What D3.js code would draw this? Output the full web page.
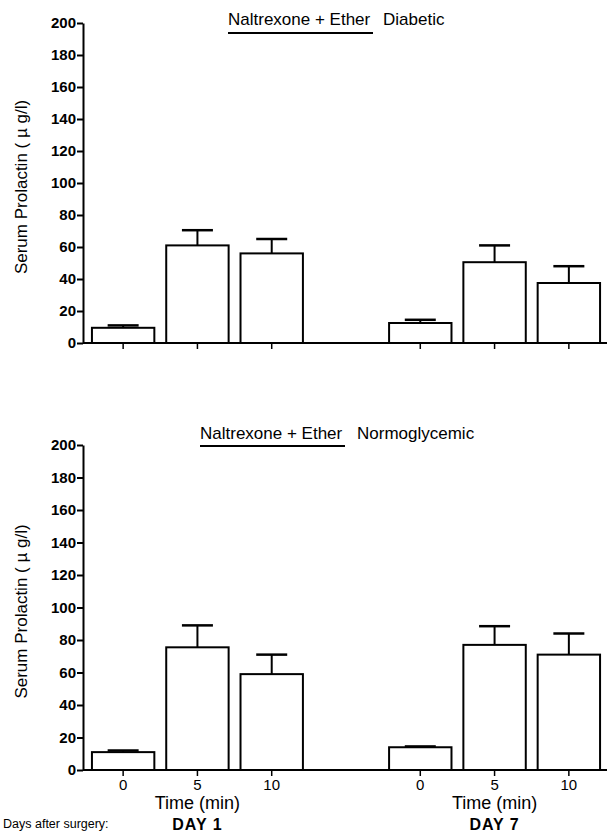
<!DOCTYPE html>
<html>
<head>
<meta charset="utf-8">
<script src="https://cdn.jsdelivr.net/npm/d3@7"></script>
<style>
  body { margin: 0; background: #fff; }
  svg text { font-family: "Liberation Sans", Arial, Helvetica, sans-serif; fill: #000; }
</style>
</head>
<body>
<div id="chart"></div>
<script>
// bar slots: three time points per day, with an empty slot between the days
var slots = ['d1-0', 'd1-5', 'd1-10', 'gap', 'd7-0', 'd7-5', 'd7-10'];
var barSlots = ['d1-0', 'd1-5', 'd1-10', 'd7-0', 'd7-5', 'd7-10'];
var timeLabels = ['0', '5', '10', '0', '5', '10'];
var dayLabels = ['DAY 1', 'DAY 7'];
var yTicks = [0, 20, 40, 60, 80, 100, 120, 140, 160, 180, 200];

// serum prolactin means and SEM (µg/l)
var diabeticMean = [9.5, 61, 56, 12.5, 50.5, 37.5];
var diabeticSem = [1.5, 9.5, 9, 2, 10.5, 10.5];
var normoMean = [11, 75.5, 59, 14, 77, 71];
var normoSem = [1, 13.5, 12, 0.5, 11.5, 13];

(function() {

  init();

  function init() {
    var width = 613;
    var height = 832;
    var axisX = 83;

    var svg = d3.select('#chart')
      .append('svg')
      .attr('width', width)
      .attr('height', height);

    var x = d3.scaleBand()
      .domain(slots)
      .range([86, 606])
      .paddingInner(0.16)
      .paddingOuter(0.08);

    drawPanel({
      top: 23, bottom: 343,
      mean: diabeticMean, sem: diabeticSem,
      titleX: 228, titleY: 25, underlineY: 33, titleEnd: 373,
      group: 'Diabetic', groupX: 383,
      labels: false
    });

    drawPanel({
      top: 445, bottom: 770,
      mean: normoMean, sem: normoSem,
      titleX: 200, titleY: 439, underlineY: 446, titleEnd: 345,
      group: 'Normoglycemic', groupX: 357,
      labels: true
    });

    function drawPanel(p) {
      var y = d3.scaleLinear().domain([0, 200]).range([p.bottom, p.top]);
      var g = svg.append('g');

      // y axis
      var yAxis = g.append('g')
        .attr('transform', 'translate(' + axisX + ',0)')
        .call(d3.axisLeft(y).tickValues(yTicks).tickSize(6).tickSizeOuter(0).tickPadding(1));
      yAxis.select('.domain').attr('stroke-width', 2);
      yAxis.selectAll('.tick line').attr('stroke-width', 2);
      yAxis.selectAll('.tick text')
        .style('font-size', '15px')
        .style('font-weight', 'bold');

      g.append('text')
        .attr('transform', 'translate(27,' + ((p.top + p.bottom) / 2 + 4) + ') rotate(-90)')
        .attr('text-anchor', 'middle')
        .style('font-size', '17px')
        .text('Serum Prolactin  ( \u00b5 g/l)');

      // bars
      var data = barSlots.map(function(s, i) {
        return { slot: s, mean: p.mean[i], sem: p.sem[i], label: timeLabels[i] };
      });

      g.selectAll('rect.bar')
        .data(data)
        .enter()
        .append('rect')
        .attr('class', 'bar')
        .attr('x', function(d) { return x(d.slot); })
        .attr('y', function(d) { return y(d.mean); })
        .attr('width', x.bandwidth())
        .attr('height', function(d) { return y(0) - y(d.mean); })
        .attr('fill', '#fff')
        .attr('stroke', '#000')
        .attr('stroke-width', 2);

      // error bars (upper only)
      var cap = 15.5;
      g.selectAll('line.err')
        .data(data)
        .enter()
        .append('line')
        .attr('class', 'err')
        .attr('x1', function(d) { return x(d.slot) + x.bandwidth() / 2; })
        .attr('x2', function(d) { return x(d.slot) + x.bandwidth() / 2; })
        .attr('y1', function(d) { return y(d.mean); })
        .attr('y2', function(d) { return y(d.mean + d.sem); })
        .attr('stroke', '#000')
        .attr('stroke-width', 2);

      g.selectAll('line.cap')
        .data(data)
        .enter()
        .append('line')
        .attr('class', 'cap')
        .attr('x1', function(d) { return x(d.slot) + x.bandwidth() / 2 - cap; })
        .attr('x2', function(d) { return x(d.slot) + x.bandwidth() / 2 + cap; })
        .attr('y1', function(d) { return y(d.mean + d.sem); })
        .attr('y2', function(d) { return y(d.mean + d.sem); })
        .attr('stroke', '#000')
        .attr('stroke-width', 2.5);

      // x axis
      var xAxis = g.append('g')
        .attr('transform', 'translate(0,' + y(0) + ')')
        .call(d3.axisBottom(x)
          .tickValues(barSlots)
          .tickSize(6)
          .tickPadding(3)
          .tickFormat(function(d) { return p.labels ? timeLabels[barSlots.indexOf(d)] : ''; }));
      xAxis.select('.domain').remove();
      xAxis.selectAll('.tick line').attr('stroke-width', 1.5);
      xAxis.selectAll('.tick text').style('font-size', '15px');

      g.append('line')
        .attr('x1', axisX)
        .attr('x2', 607)
        .attr('y1', y(0))
        .attr('y2', y(0))
        .attr('stroke', '#000')
        .attr('stroke-width', 2);

      // title
      g.append('text')
        .attr('x', p.titleX)
        .attr('y', p.titleY)
        .style('font-size', '17px')
        .text('Naltrexone + Ether');
      g.append('line')
        .attr('x1', p.titleX)
        .attr('x2', p.titleEnd)
        .attr('y1', p.underlineY)
        .attr('y2', p.underlineY)
        .attr('stroke', '#000')
        .attr('stroke-width', 2);
      g.append('text')
        .attr('x', p.groupX)
        .attr('y', p.titleY)
        .style('font-size', '17px')
        .text(p.group);

      if (p.labels) {
        var mid1 = x('d1-5') + x.bandwidth() / 2;
        var mid7 = x('d7-5') + x.bandwidth() / 2;
        [mid1, mid7].forEach(function(mx, i) {
          g.append('text')
            .attr('x', mx)
            .attr('y', 809)
            .attr('text-anchor', 'middle')
            .style('font-size', '18px')
            .text('Time (min)');
          g.append('text')
            .attr('x', mx)
            .attr('y', 830)
            .attr('text-anchor', 'middle')
            .style('font-size', '16px')
            .style('font-weight', 'bold')
            .style('letter-spacing', '1px')
            .text(dayLabels[i]);
        });
        g.append('text')
          .attr('x', 3)
          .attr('y', 828)
          .style('font-size', '12.5px')
          .text('Days after surgery:');
      }
    }
  }

})()
</script>
</body>
</html>
